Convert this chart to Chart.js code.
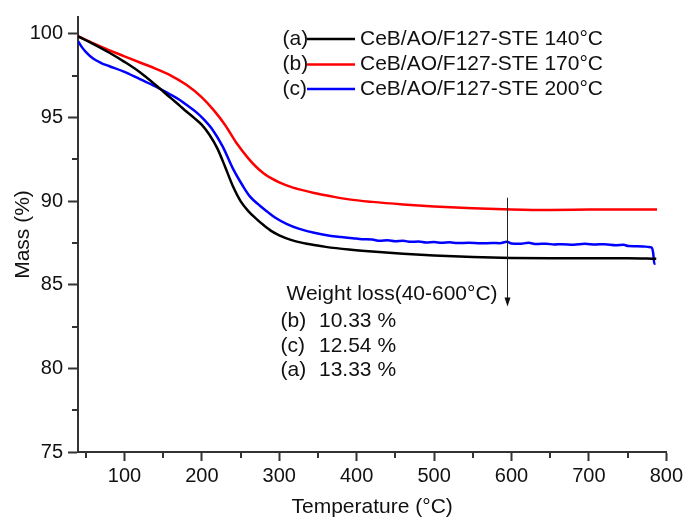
<!DOCTYPE html>
<html><head><meta charset="utf-8">
<script src="https://cdn.jsdelivr.net/npm/chart.js@4.4.0/dist/chart.umd.min.js"></script>
<style>html,body{margin:0;padding:0;background:#fff}#wrap{width:686px;height:520px;position:relative}</style>
</head><body><div id="wrap"><canvas id="c" width="686" height="520"></canvas></div>
<script>
// ---- data ----
const tempA = [40,60,80,100,120,140,160,171,180,190,200,210,220,230,240,250,260,270,280,290,300,315,330,345,360,390,420,460,500,550,600,650,700,750,787];
const massA = [99.85,99.38,98.88,98.32,97.7,96.95,96.15,95.72,95.35,94.97,94.55,93.95,93.15,92.05,90.9,90.0,89.4,88.95,88.55,88.2,87.95,87.68,87.5,87.37,87.26,87.1,86.98,86.85,86.75,86.66,86.6,86.58,86.58,86.58,86.55];

const tempB = [40,60,80,100,120,140,160,180,200,215,230,245,260,270,280,290,300,315,330,345,365,390,420,460,500,550,600,650,700,750,788];
const massB = [99.85,99.42,99.02,98.65,98.28,97.92,97.5,96.95,96.2,95.45,94.55,93.45,92.55,92.05,91.65,91.35,91.12,90.85,90.65,90.48,90.3,90.1,89.95,89.8,89.68,89.57,89.5,89.47,89.49,89.5,89.5];

const tempC = [40,45,50,60,70,80,100,120,140,160,171,180,193,200,214,227,240,253,262,275,285,295,310,325,345,365,380,395,407,420,430,440,450,460,470,480,490,500,510,520,530,545,560,575,585,594,600,610,622,632,645,655,665,680,695,708,720,735,745,751,760,770,777,781,783,784.5,786];
const massC = [99.56,99.2,98.92,98.5,98.25,98.07,97.72,97.28,96.85,96.35,96.05,95.75,95.3,95.0,94.25,93.25,91.95,90.9,90.28,89.72,89.35,89.0,88.62,88.35,88.1,87.93,87.85,87.78,87.72,87.7,87.62,87.66,87.6,87.62,87.56,87.58,87.52,87.55,87.5,87.53,87.49,87.5,87.47,87.49,87.48,87.57,87.46,87.44,87.5,87.43,87.45,87.4,87.42,87.39,87.44,87.4,87.42,87.36,87.38,87.31,87.3,87.29,87.26,87.22,86.9,86.25,86.28];

const seriesTags = ['(a)','(b)','(c)'];
const seriesLabels = ['CeB/AO/F127-STE 140°C','CeB/AO/F127-STE 170°C','CeB/AO/F127-STE 200°C'];
const seriesColors = ['#000000','#ff0000','#0000ff'];

const xTicks = [100,200,300,400,500,600,700,800];
const xMinorTicks = [50,150,250,350,450,550,650,750];
const yTicks = [75,80,85,90,95,100];
const yMinorTicks = [77.5,82.5,87.5,92.5,97.5];

const lossTitle = 'Weight loss(40-600°C)';
const lossTags = ['(b)','(c)','(a)'];
const lossValues = ['10.33 %','12.54 %','13.33 %'];
const arrowTemp = 594;
const arrowFrom = 90.2;
const arrowTo = 83.7;

const xTitle = 'Temperature (°C)';
const yTitle = 'Mass (%)';

// ---- chart ----
const FONT = '"Liberation Sans", Arial, sans-serif';
const AXIS = '#333333';
const TEXT = '#111111';

function pts(t, m){ return t.map((v,i)=>({x:v,y:m[i]})); }

const overlay = {
  id:'overlay',
  afterDraw(chart){
    const {ctx, chartArea:ca, scales:{x,y}} = chart;
    ctx.save();
    // minor ticks
    ctx.strokeStyle = AXIS; ctx.lineWidth = 2;
    xMinorTicks.forEach(v=>{
      const px = Math.round(x.getPixelForValue(v));
      ctx.beginPath(); ctx.moveTo(px, ca.bottom); ctx.lineTo(px, ca.bottom+6); ctx.stroke();
    });
    yMinorTicks.forEach(v=>{
      const py = Math.round(y.getPixelForValue(v));
      ctx.beginPath(); ctx.moveTo(ca.left, py); ctx.lineTo(ca.left-6, py); ctx.stroke();
    });
    // legend
    ctx.font = '21px ' + FONT;
    ctx.fillStyle = TEXT;
    ctx.textBaseline = 'middle';
    ctx.textAlign = 'left';
    const rowY = [39, 64.5, 89];
    chart.data.datasets.forEach((ds,i)=>{
      const yy = rowY[i];
      ctx.fillStyle = TEXT;
      ctx.fillText(seriesTags[i], 282.5, yy);
      ctx.strokeStyle = ds.borderColor; ctx.lineWidth = 2.5;
      ctx.beginPath(); ctx.moveTo(307, yy); ctx.lineTo(355, yy); ctx.stroke();
      ctx.fillText(seriesLabels[i], 360, yy);
    });
    // weight loss annotation
    ctx.fillStyle = TEXT;
    ctx.fillText(lossTitle, 286.5, 294);
    const lossY = [321.5, 346.5, 370];
    lossTags.forEach((t,i)=>{
      ctx.fillText(t, 280.5, lossY[i]);
      ctx.fillText(lossValues[i], 319, lossY[i]);
    });
    // arrow
    const ax = Math.round(x.getPixelForValue(arrowTemp)) + 0.5;
    const ay1 = y.getPixelForValue(arrowFrom);
    const ay2 = y.getPixelForValue(arrowTo);
    ctx.strokeStyle = '#222'; ctx.lineWidth = 1;
    ctx.beginPath(); ctx.moveTo(ax, ay1); ctx.lineTo(ax, ay2 - 6); ctx.stroke();
    ctx.fillStyle = '#111';
    ctx.beginPath(); ctx.moveTo(ax, ay2); ctx.lineTo(ax-3, ay2-9); ctx.lineTo(ax+3, ay2-9); ctx.closePath(); ctx.fill();
    ctx.restore();
  }
};

new Chart(document.getElementById('c'), {
  type:'line',
  data:{
    datasets:[
      {data:pts(tempA,massA), borderColor:seriesColors[0]},
      {data:pts(tempB,massB), borderColor:seriesColors[1]},
      {data:pts(tempC,massC), borderColor:seriesColors[2]}
    ].map(d=>Object.assign(d,{borderWidth:2.5, pointRadius:0, fill:false, cubicInterpolationMode:'monotone'}))
  },
  options:{
    responsive:false, animation:false, devicePixelRatio:1,
    layout:{padding:{top:12, right:18, left:0, bottom:0}},
    plugins:{legend:{display:false}, tooltip:{enabled:false}},
    scales:{
      x:{
        type:'linear', min:40, max:800,
        afterBuildTicks(axis){ axis.ticks = xTicks.map(v=>({value:v})); },
        afterFit(axis){ axis.height = 68; },
        ticks:{font:{family:FONT,size:20}, color:TEXT, padding:3, maxRotation:0},
        grid:{drawOnChartArea:false, tickLength:9, tickWidth:2, tickColor:AXIS},
        border:{color:AXIS, width:2},
        title:{display:true, text:xTitle, font:{family:FONT,size:21}, color:TEXT, padding:{top:0,bottom:0}}
      },
      y:{
        type:'linear', min:75, max:101,
        afterBuildTicks(axis){ axis.ticks = yTicks.map(v=>({value:v})); },
        afterFit(axis){ axis.width = 78; },
        ticks:{font:{family:FONT,size:20}, color:TEXT, padding:5},
        grid:{drawOnChartArea:false, tickLength:10, tickWidth:2, tickColor:AXIS},
        border:{color:AXIS, width:2},
        title:{display:true, text:yTitle, font:{family:FONT,size:21}, color:TEXT, padding:{top:11,bottom:0}}
      }
    }
  },
  plugins:[overlay]
});
</script></body></html>
